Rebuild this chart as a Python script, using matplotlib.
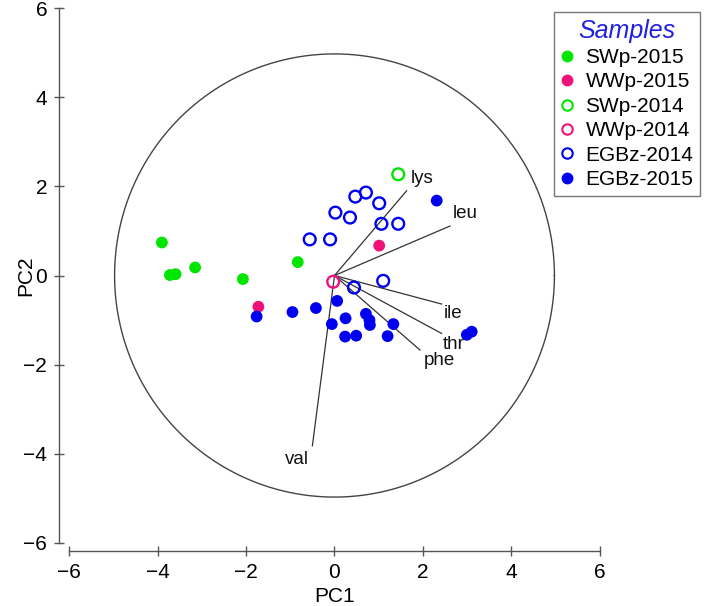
import numpy as np
import matplotlib
matplotlib.use("Agg")
import matplotlib.pyplot as plt
from matplotlib.lines import Line2D

plt.rcParams['font.family'] = ['Liberation Sans', 'DejaVu Sans']

# --- data ---
swp2015_x = [-3.90, -3.72, -3.59, -3.15, -2.07, -0.83]
swp2015_y = [0.74, 0.01, 0.03, 0.18, -0.08, 0.30]

wwp2015_x = [-1.72, 1.01]
wwp2015_y = [-0.70, 0.67]

swp2014_x = [1.44]
swp2014_y = [2.27]

wwp2014_x = [-0.03]
wwp2014_y = [-0.14]

egbz2014_x = [0.47, 0.71, 1.01, 0.02, 0.35, 1.06, 1.44, -0.56, -0.10, 1.10, 0.44]
egbz2014_y = [1.77, 1.86, 1.62, 1.41, 1.30, 1.16, 1.16, 0.81, 0.81, -0.12, -0.27]

egbz2015_x = [-1.76, -0.95, -0.42, 0.06, -0.06, 0.25, 0.24, 0.49, 0.71, 0.79, 0.80,
              2.31, 1.33, 1.20, 2.99, 3.10]
egbz2015_y = [-0.92, -0.82, -0.73, -0.57, -1.09, -0.96, -1.37, -1.35, -0.86, -1.00, -1.11,
              1.68, -1.09, -1.36, -1.33, -1.26]

loading_names = ['lys', 'leu', 'ile', 'thr', 'phe', 'val']
loading_x = [1.63, 2.61, 2.42, 2.42, 1.93, -0.50]
loading_y = [1.90, 1.11, -0.64, -1.30, -1.67, -3.82]
label_x = [1.97, 2.95, 2.69, 2.69, 2.37, -0.85]
label_y = [2.18, 1.39, -0.86, -1.54, -1.91, -4.12]

circle_radius = 4.97
ticks = [-6, -4, -2, 0, 2, 4, 6]

GREEN = '#00E600'
PINK = '#F0127A'
BLUE = '#0000F0'

W, H = 709, 606
fig = plt.figure(figsize=(W / 100, H / 100), dpi=100)
ax = fig.add_axes([69 / W, 1 - 543 / H, (600 - 69) / W, (543 - 8) / H])
ax.set_xlim(-6, 6)
ax.set_ylim(-6, 6)

# circle
t = np.linspace(0, 2 * np.pi, 400)
ax.plot(circle_radius * np.cos(t), circle_radius * np.sin(t), color='#444444', lw=1.0, zorder=1)

# loadings
for nm, lx, ly, tx, ty in zip(loading_names, loading_x, loading_y, label_x, label_y):
    ax.plot([0, lx], [0, ly], color='#333333', lw=0.9, zorder=2)
    ax.text(tx, ty, nm, fontsize=13.5, ha='center', va='center', color='#111111', zorder=5)

ms = 72
lw_open = 1.7
ax.scatter(swp2015_x, swp2015_y, s=ms, color=GREEN, edgecolors='none', zorder=3)
ax.scatter(wwp2015_x, wwp2015_y, s=ms, color=PINK, edgecolors='none', zorder=3)
ax.scatter(swp2014_x, swp2014_y, s=ms, facecolors='none', edgecolors=GREEN, linewidths=lw_open, zorder=3)
ax.scatter(wwp2014_x, wwp2014_y, s=ms, facecolors='none', edgecolors=PINK, linewidths=lw_open, zorder=3)
ax.scatter(egbz2014_x, egbz2014_y, s=ms, facecolors='none', edgecolors=BLUE, linewidths=lw_open, zorder=3)
ax.scatter(egbz2015_x, egbz2015_y, s=ms, color=BLUE, edgecolors='none', zorder=3)

# axes styling (detached R-style)
for side in ['top', 'right']:
    ax.spines[side].set_visible(False)
ax.spines['left'].set_position(('outward', 7.2))
ax.spines['bottom'].set_position(('outward', 5.8))
for side in ['left', 'bottom']:
    ax.spines[side].set_color('#555555')
    ax.spines[side].set_linewidth(1.0)
    ax.spines[side].set_bounds(-6, 6)
ax.set_xticks(ticks)
ax.set_yticks(ticks)
ax.set_xticklabels([f"{v}".replace('-', '\u2212') for v in ticks])
ax.set_yticklabels([f"{v}".replace('-', '\u2212') for v in ticks])
ax.tick_params(direction='inout', length=7, width=1.0, color='#555555', labelsize=15)
ax.tick_params(axis='x', pad=5)
ax.tick_params(axis='y', pad=5)
ax.set_xlabel('PC1', fontsize=15)
ax.set_ylabel('PC2', fontsize=15)
ax.xaxis.set_label_coords(0.5, (543 - 597) / 535, transform=ax.transAxes)
ax.yaxis.set_label_coords((26 - 69) / 531, 0.5, transform=ax.transAxes)
ax.xaxis.label.set_va('center')
ax.yaxis.label.set_va('center')

# legend
handles = [
    Line2D([], [], marker='o', ls='none', color=GREEN, markersize=7.5, label='SWp-2015'),
    Line2D([], [], marker='o', ls='none', color=PINK, markersize=7.5, label='WWp-2015'),
    Line2D([], [], marker='o', ls='none', markerfacecolor='none', markeredgecolor=GREEN,
           markeredgewidth=1.5, markersize=7.5, label='SWp-2014'),
    Line2D([], [], marker='o', ls='none', markerfacecolor='none', markeredgecolor=PINK,
           markeredgewidth=1.5, markersize=7.5, label='WWp-2014'),
    Line2D([], [], marker='o', ls='none', markerfacecolor='none', markeredgecolor=BLUE,
           markeredgewidth=1.5, markersize=7.5, label='EGBz-2014'),
    Line2D([], [], marker='o', ls='none', color=BLUE, markersize=7.5, label='EGBz-2015'),
]
leg = fig.legend(handles=handles, loc='upper right', bbox_to_anchor=(700 / W, 1 - 12 / H),
                 fontsize=15, title='Samples', frameon=True, fancybox=False,
                 handlelength=0.6, handletextpad=0.6, borderpad=0.32, labelspacing=0.26,
                 borderaxespad=0)
leg.get_frame().set_edgecolor('#555555')
leg.get_frame().set_linewidth(1.0)
leg.get_title().set_color('#2020E0')
leg.get_title().set_fontstyle('italic')
leg.get_title().set_fontsize(18)

fig.savefig('out.png', dpi=100)
